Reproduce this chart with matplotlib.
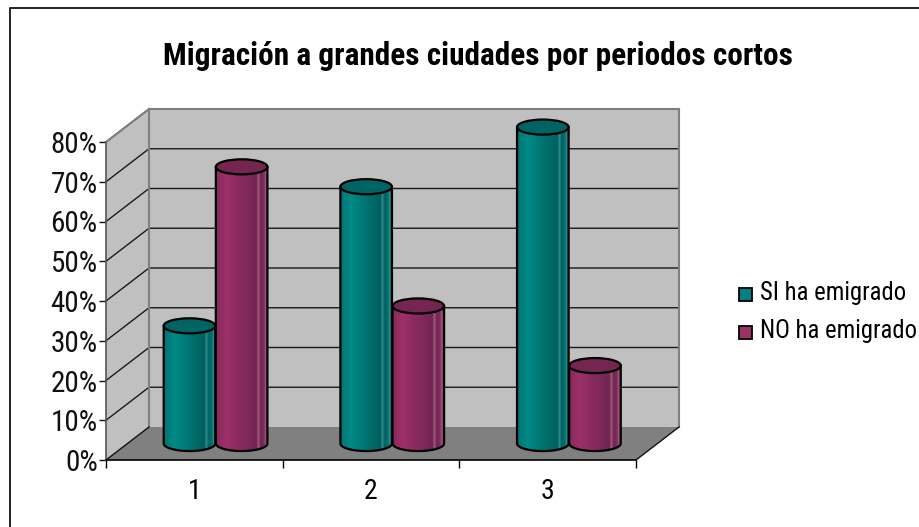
import numpy as np
import matplotlib.pyplot as plt
from matplotlib.colors import LinearSegmentedColormap
from matplotlib.patches import Polygon, Ellipse, Rectangle

plt.rcParams['font.family'] = ['Roboto Condensed', 'Liberation Sans', 'DejaVu Sans']

categories = ['1', '2', '3']
si_emigrado = [30, 65, 80]
no_emigrado = [70, 35, 20]
yticks = [0, 10, 20, 30, 40, 50, 60, 70, 80]
series_names = ['SI ha emigrado', 'NO ha emigrado']
title = 'Migración a grandes ciudades por periodos cortos'

W, H = 920, 527
fig = plt.figure(figsize=(W/100, H/100), dpi=100)

# whole figure in pixels, only top and left of the frame are visible
bg = fig.add_axes([0, 0, 1, 1])
bg.set_xlim(0, W)
bg.set_ylim(H, 0)
bg.axis('off')
bg.plot([10, 10, W], [H, 7.5, 7.5], color='#222222', lw=1.4)

# front plane of the 3d box
left, right, bottom, top = 106, 636, 460, 142
ax = fig.add_axes([left/W, 1-bottom/H, (right-left)/W, (bottom-top)/H])
ax.patch.set_visible(False)
for s in ['top', 'right', 'left']:
    ax.spines[s].set_visible(False)
ax.spines['bottom'].set_linewidth(1.2)

# depth of the box in data units
dx = 43/(right-left)*3
dy = 33/(bottom-top)*80

wall = '#c0c0c0'
edge = '#808080'
ax.add_patch(Polygon([(0, 0), (dx, dy), (3+dx, dy), (3, 0)], fc='#808080', ec='none', clip_on=False, zorder=1))
ax.add_patch(Polygon([(0, 0), (dx, dy), (dx, 80+dy), (0, 80)], fc=wall, ec='none', clip_on=False, zorder=1))
ax.add_patch(Polygon([(dx, dy), (3+dx, dy), (3+dx, 80+dy), (dx, 80+dy)], fc=wall, ec='none', clip_on=False, zorder=1))
for v in yticks[1:]:
    ax.plot([0, dx, 3+dx], [v, v+dy, v+dy], color='#1a1a1a', lw=1, clip_on=False, zorder=2)
ax.plot([dx, dx], [dy, 80+dy], color=edge, lw=1.5, clip_on=False, zorder=3)
ax.plot([3+dx, 3+dx], [dy, 80+dy], color=edge, lw=1.5, clip_on=False, zorder=3)
ax.plot([dx, 3+dx], [80+dy, 80+dy], color=edge, lw=1.5, clip_on=False, zorder=3)
ax.plot([0, dx], [80, 80+dy], color=edge, lw=1.5, clip_on=False, zorder=3)
ax.plot([0, 0], [0, 80], color='#555555', lw=1.2, clip_on=False, zorder=3)
ax.plot([0, dx], [0, dy], color='#111111', lw=1, clip_on=False, zorder=3)
ax.plot([3, 3+dx], [0, dy], color='#111111', lw=1, clip_on=False, zorder=3)


def cylinder(x0, value, width, light, mid, dark, line, topc, z):
    cx = x0 + width/2 + dx/2
    by = dy/2
    ty = value + dy/2 - 0.4
    eh = 3.8
    ts = np.linspace(0, np.pi, 60)
    xs = cx - width/2*np.cos(ts)
    lower = by - eh/2*np.sin(ts)
    verts = list(zip(xs, lower)) + [(cx+width/2, ty), (cx-width/2, ty)]
    body = Polygon(verts, fc='none', ec='black', lw=1.6, clip_on=False, zorder=z+1, joinstyle='round')
    ax.add_patch(body)
    cmap = LinearSegmentedColormap.from_list('c', [(0, mid), (0.2, light), (0.5, mid), (0.78, dark),
                                                   (0.82, line), (0.86, dark), (0.93, mid), (0.96, line), (1, dark)])
    grad = np.linspace(0, 1, 200).reshape(1, -1)
    im = ax.imshow(grad, extent=[cx-width/2, cx+width/2, by-eh, ty], cmap=cmap, aspect='auto', zorder=z)
    im.set_clip_path(body)
    # images get cut at the axes box otherwise
    im.set_clip_box(fig.bbox)
    ax.add_patch(Ellipse((cx, ty), width, eh, fc=topc, ec='black', lw=1.6, clip_on=False, zorder=z+2))


width = 0.292
for i in range(len(categories)):
    cylinder(i+0.205, si_emigrado[i], width, '#008a86', '#007472', '#005f5f', '#2f8f8c', '#006464', 5)
    cylinder(i+0.5, no_emigrado[i], width, '#9c3068', '#862a5e', '#702650', '#a05a84', '#742650', 8)
# imshow resets limits
ax.set_xlim(0, 3)
ax.set_ylim(0, 80)

ax.set_xticks([0, 1, 2, 3])
ax.set_xticklabels([])
ax.set_xticks([0.5, 1.5, 2.5], categories, minor=True, fontsize=20)
ax.set_yticks(yticks)
ax.set_yticklabels([str(v)+'%' for v in yticks], fontsize=21)
ax.tick_params(axis='y', length=5, width=1, pad=1, colors='#111111')
ax.tick_params(axis='x', which='major', length=6, width=1)
ax.tick_params(axis='x', which='minor', length=0, pad=13)

fig.text(478/W, 1-56/H, title, ha='center', va='center', fontsize=22.5, fontweight='bold')

# legend
bg.add_patch(Rectangle((739.5, 288), 13, 13, fc='#008080', ec='black', lw=1.3))
bg.text(760, 293, series_names[0], fontsize=17.7, va='center', ha='left')
bg.add_patch(Rectangle((739.5, 326), 13, 13, fc='#993366', ec='black', lw=1.3))
bg.text(760, 331, series_names[1], fontsize=17.7, va='center', ha='left')

fig.savefig('out.png', dpi=100)
